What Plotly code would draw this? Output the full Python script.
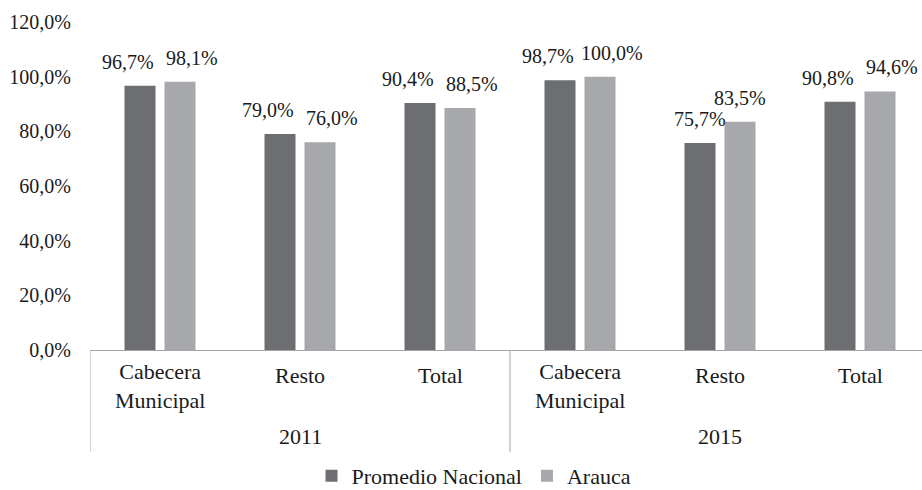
import plotly.graph_objects as go

years = ["2011", "2015"]
zones = ["Cabecera Municipal", "Resto", "Total"]
promedio_nacional = [0.967, 0.790, 0.904, 0.987, 0.757, 0.908]
arauca = [0.981, 0.760, 0.885, 1.000, 0.835, 0.946]
series_names = ["Promedio Nacional", "Arauca"]
y_ticks = [0, 0.2, 0.4, 0.6, 0.8, 1.0, 1.2]

FONT = "Liberation Serif, Times New Roman, serif"
FS_TICK = 20
FS_LABEL = 20
FS_CAT = 22
DARK = "#6d6e71"
LIGHT = "#a7a8ac"
LINE = "#a6a6a6"
TXT = "#1a1a1a"

cats = [f"{y} {z}" for y in years for z in zones]

fig = go.Figure()
for name, vals, col in [(series_names[0], promedio_nacional, DARK), (series_names[1], arauca, LIGHT)]:
    fig.add_trace(go.Bar(name=name, x=cats, y=vals, marker_color=col, marker_line_width=0))

W, H = 922, 490
PL, PR, PT, PB = 90, 922, 22, 350       # plot area in pixels
L, T = PL, PT
ph = PB - PT
pw = PR - PL
B = H - T - ph
R = W - L - pw
cat_px = 140.0
x_max = -0.5 + pw / cat_px


def py(y_px):
    return -(y_px - PB) / ph


annotations = []
# data labels, spread apart horizontally when the two labels of a pair would collide
for i, c in enumerate(cats):
    a, b = promedio_nacional[i], arauca[i]
    dy_px = abs(a - b) / 1.2 * ph
    spread = 12 if dy_px < 18 else 0
    for v, base in [(a, -20 - spread), (b, 20 + spread)]:
        annotations.append(dict(x=c, y=v, xref="x", yref="y", text=f"{v*100:.1f}%".replace(".", ","),
                                showarrow=False, xanchor="center", yanchor="bottom",
                                xshift=base, yshift=11,
                                font=dict(family=FONT, size=FS_LABEL, color=TXT)))
# category labels (inner level)
for i, c in enumerate(cats):
    z = zones[i % len(zones)]
    parts = z.split(" ")
    if len(parts) == 1:
        text, yc = z, 375
    else:
        text, yc = parts[0] + "<br>" + " ".join(parts[1:]), 386
    annotations.append(dict(x=i, y=py(yc), xref="x", yref="paper", text=text,
                            showarrow=False, xanchor="center", yanchor="middle",
                            font=dict(family=FONT, size=FS_CAT, color=TXT)))
# outer level (years)
for j, yr in enumerate(years):
    annotations.append(dict(x=j * len(zones) + (len(zones) - 1) / 2, y=py(437),
                            xref="x", yref="paper", text=yr, showarrow=False,
                            xanchor="center", yanchor="middle",
                            font=dict(family=FONT, size=FS_CAT, color=TXT)))

shapes = []
for j in range(len(years) + 1):
    xd = j * len(zones) - 0.5
    shapes.append(dict(type="line", xref="x", yref="paper", x0=xd, x1=xd,
                       y0=0, y1=py(452), line=dict(color=LINE, width=1)))

fig.update_layout(
    width=W, height=H,
    margin=dict(l=L, r=R, t=T, b=B, autoexpand=False),
    paper_bgcolor="white", plot_bgcolor="white",
    separators=",.",
    font=dict(family=FONT, size=FS_CAT, color=TXT),
    barmode="group", bargap=0.4286, bargroupgap=0.225,
    showlegend=True,
    legend=dict(orientation="h", x=(474 - PL) / pw, xanchor="center",
                y=py(476), yanchor="middle",
                font=dict(family=FONT, size=FS_CAT, color=TXT), itemwidth=30, tracegroupgap=0),
    annotations=annotations, shapes=shapes,
)
fig.update_yaxes(range=[0, 1.2], tickvals=y_ticks, tickformat=".1%",
                 showgrid=False, zeroline=False, showline=False, automargin=False,
                 ticklabelstandoff=18, tickfont=dict(family=FONT, size=FS_TICK, color=TXT))
fig.update_xaxes(type="category", range=[-0.5, x_max], showline=True, linecolor=LINE, linewidth=1,
                 showticklabels=False, ticks="", automargin=False)
fig.write_html("out.html", config={"displayModeBar": False},
               post_script="document.body.style.margin='0';document.body.style.overflow='hidden';")
